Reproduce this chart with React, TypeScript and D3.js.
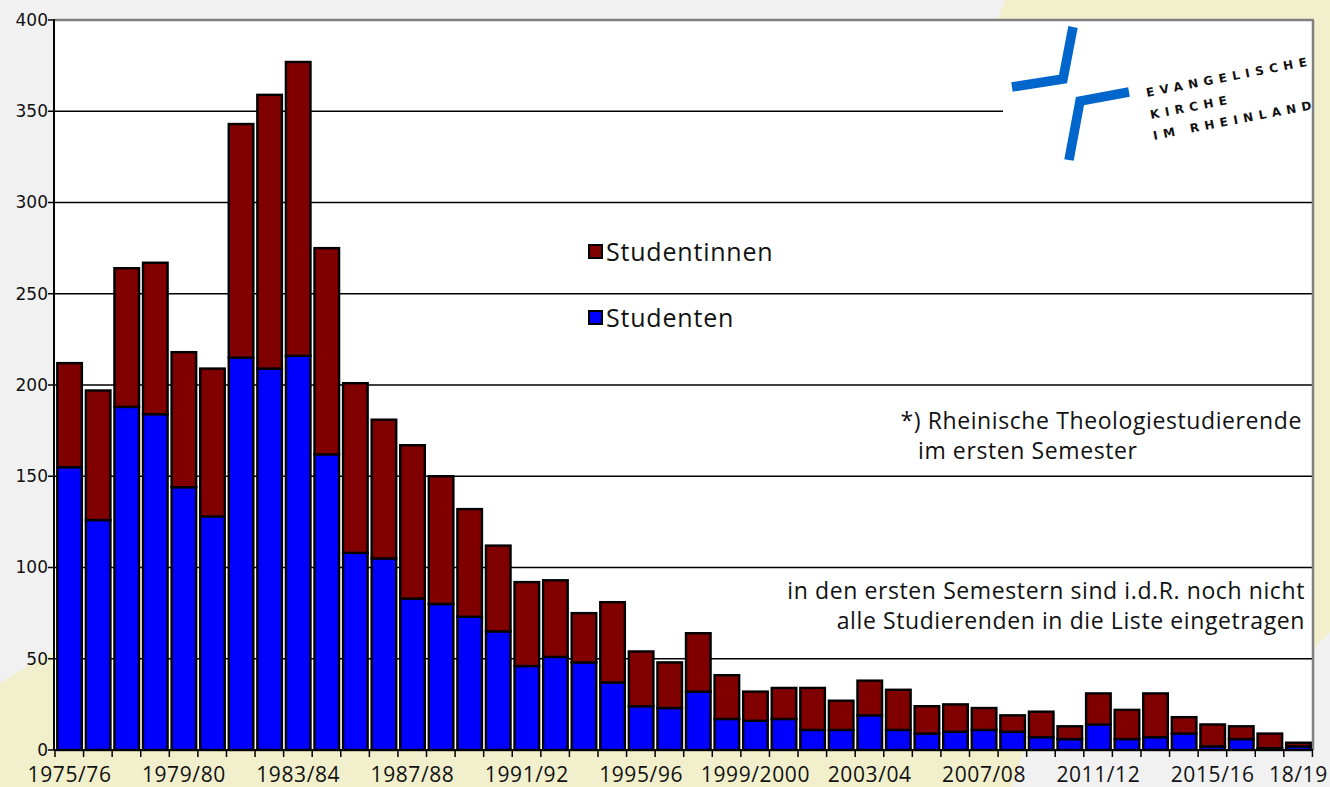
import * as d3 from 'd3'

// Studienjahre (one bar each)
const seasons = [
  '1975/76', '1976/77', '1977/78', '1978/79', '1979/80', '1980/81', '1981/82', '1982/83',
  '1983/84', '1984/85', '1985/86', '1986/87', '1987/88', '1988/89', '1989/90', '1990/91',
  '1991/92', '1992/93', '1993/94', '1994/95', '1995/96', '1996/97', '1997/98', '1998/99',
  '1999/2000', '2000/01', '2001/02', '2002/03', '2003/04', '2004/05', '2005/06', '2006/07',
  '2007/08', '2008/09', '2009/10', '2010/11', '2011/12', '2012/13', '2013/14', '2014/15',
  '2015/16', '2016/17', '2017/18', '2018/19',
]

// Studenten (blue, bottom)
const studenten = [
  155, 126, 188, 184, 144, 128, 215, 209, 216, 162, 108, 105, 83, 80, 73, 65,
  46, 51, 48, 37, 24, 23, 32, 17, 16, 17, 11, 11, 19, 11, 9, 10,
  11, 10, 7, 6, 14, 6, 7, 9, 2, 6, 1, 2,
]

// Studentinnen (dark red, on top)
const studentinnen = [
  57, 71, 76, 83, 74, 81, 128, 150, 161, 113, 93, 76, 84, 70, 59, 47,
  46, 42, 27, 44, 30, 25, 32, 24, 16, 17, 23, 16, 19, 22, 15, 15,
  12, 9, 14, 7, 17, 16, 24, 9, 12, 7, 8, 2,
]

const tickSeasons = ['1975/76', '1979/80', '1983/84', '1987/88', '1991/92', '1995/96', '1999/2000', '2003/04', '2007/08', '2011/12', '2015/16', '2018/19']
const tickLabels = ['1975/76', '1979/80', '1983/84', '1987/88', '1991/92', '1995/96', '1999/2000', '2003/04', '2007/08', '2011/12', '2015/16', '18/19']
const yTicks = [0, 50, 100, 150, 200, 250, 300, 350, 400]

const W = 1330
const H = 787
const left = 55
const right = 1313
const top = 20
const bottom = 750

const BLUE = '#0000ff'
const RED = '#800000'
const FONT = "'Open Sans', sans-serif"

const App = () => {
  const x = d3.scaleBand<string>()
    .domain(seasons)
    .range([left, right])
    .paddingInner(0.14)
    .paddingOuter(0.08)

  const y = d3.scaleLinear()
    .domain([0, 400])
    .range([bottom, top])

  const rows = seasons.map((s, i) => ({ season: s, studenten: studenten[i], studentinnen: studentinnen[i] }))
  const series = d3.stack<any>().keys(['studenten', 'studentinnen'])(rows)
  const colors = [BLUE, RED]

  const step = x.step()
  // tick marks sit between the bars
  const xTickPos = d3.range(seasons.length + 1).map(i => left + i * step)

  return (
    <svg width={W} height={H} style={{ position: 'absolute', left: 0, top: 0 }}>
      {/* background */}
      <rect x={0} y={0} width={W} height={H} fill="#f1f1f1" />
      <polygon points="1005,0 1330,0 1330,632 1290,672 990,40" fill="#f2f0cc" />
      <polygon points="0,683 55,650 1040,700 1012,787 0,787" fill="#f2f0cc" />

      {/* plot area */}
      <rect x={left} y={top} width={right - left} height={bottom - top} fill="#fff" />

      {/* grid */}
      {yTicks.filter(t => t > 0 && t < 400).map(t => (
        <line key={t} x1={left} x2={right} y1={y(t)} y2={y(t)} stroke="#000" strokeWidth={1.3} />
      ))}

      {/* logo box covers the 350 line */}
      <rect x={1003} y={top + 1} width={right - 1004} height={118} fill="#fff" />
      <g fill="none" stroke="#0066cc" strokeWidth={9.5} strokeLinejoin="miter">
        <polyline points="1073,27 1063,79 1012,87" />
        <polyline points="1129,92 1080,101 1069,160" />
      </g>
      <g fontFamily="'DejaVu Sans', sans-serif" fontSize={12} fontWeight="bold" fill="#111" letterSpacing={5.6}>
        <text transform="translate(1147,97) rotate(-11)">EVANGELISCHE</text>
        <text transform="translate(1151,119) rotate(-11)">KIRCHE</text>
        <text transform="translate(1154,140) rotate(-11)">IM RHEINLAND</text>
      </g>

      {/* frame */}
      <line x1={left} x2={right + 1} y1={top} y2={top} stroke="#808080" strokeWidth={2.5} />
      <line x1={right} x2={right} y1={top} y2={bottom} stroke="#808080" strokeWidth={2.5} />

      {/* bars */}
      {series.map((s, si) => (
        <g key={s.key}>
          {s.map((d, i) => (
            <rect
              key={i}
              x={x(seasons[i])}
              y={y(d[1])}
              width={x.bandwidth()}
              height={Math.max(0, y(d[0]) - y(d[1]))}
              fill={colors[si]}
              stroke="#000"
              strokeWidth={2.4}
            />
          ))}
        </g>
      ))}

      {/* y axis */}
      <line x1={left - 1} x2={left - 1} y1={top - 1} y2={bottom} stroke="#000" strokeWidth={2} />
      {yTicks.map(t => (
        <g key={t}>
          <line x1={left - 7} x2={left - 1} y1={y(t)} y2={y(t)} stroke="#000" strokeWidth={1.5} />
          <text x={left - 7} y={y(t)} dy="0.35em" textAnchor="end" fontFamily="'DejaVu Sans', sans-serif" fontSize={17} fill="#111">{t}</text>
        </g>
      ))}

      {/* x axis */}
      <line x1={left - 1} x2={right} y1={bottom} y2={bottom} stroke="#000" strokeWidth={2} />
      {xTickPos.map((p, i) => (
        <line key={i} x1={p} x2={p} y1={bottom} y2={bottom + 7} stroke="#000" strokeWidth={1.5} />
      ))}
      {tickSeasons.map((s, i) => (
        <text key={s} x={(x(s) ?? 0) + x.bandwidth() / 2} y={782} textAnchor="middle" fontFamily={FONT} fontSize={21} letterSpacing={0.6} fill="#111">{tickLabels[i]}</text>
      ))}

      {/* legend */}
      <rect x={589} y={245} width={13} height={13} fill={RED} stroke="#000" strokeWidth={2} />
      <text x={606} y={261} fontFamily={FONT} fontSize={25} letterSpacing={0.8} fill="#111">Studentinnen</text>
      <rect x={589} y={311} width={13} height={13} fill={BLUE} stroke="#000" strokeWidth={2} />
      <text x={606} y={327} fontFamily={FONT} fontSize={25} letterSpacing={0.8} fill="#111">Studenten</text>

      {/* notes */}
      <g fontFamily={FONT} fontSize={23} letterSpacing={0.6} fill="#111">
        <text x={1302} y={429} textAnchor="end">*) Rheinische Theologiestudierende</text>
        <text x={918} y={459}>im ersten Semester</text>
        <text x={1305} y={599} textAnchor="end">in den ersten Semestern sind i.d.R. noch nicht</text>
        <text x={1305} y={629} textAnchor="end">alle Studierenden in die Liste eingetragen</text>
      </g>
    </svg>
  )
}

export default App
